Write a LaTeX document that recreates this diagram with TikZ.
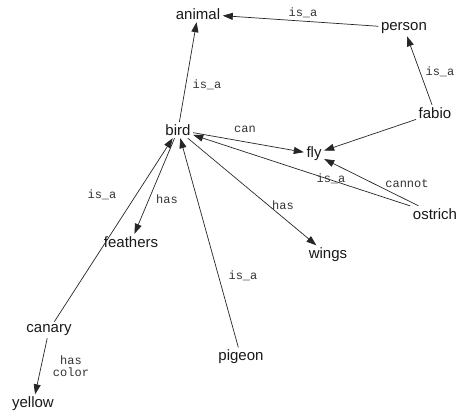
\documentclass[tikz,border=0pt]{standalone}
\usepackage{fontspec}
\setmainfont{Liberation Sans}
\setmonofont{Liberation Mono}
\usetikzlibrary{arrows.meta}
\begin{document}
\begin{tikzpicture}[x=1pt,y=-1pt,
  concept/.style={inner sep=2.5pt, text=black!90, font=\fontsize{15}{15}\selectfont},
  rel/.style={draw=black!85, line width=0.7pt, -{Triangle[length=10pt,width=7pt]}},
  lbl/.style={text=black!80, font=\ttfamily\fontsize{12}{11.5}\selectfont, inner sep=0pt, align=center}]
\useasboundingbox[fill=white] (0,0) rectangle (459,417);

% concepts
\node[concept] (animal)   at (198,14)  {animal};
\node[concept] (person)   at (404,28)  {person};
\node[concept] (fabio)    at (435,113) {fabio};
\node[concept] (bird)     at (178,130) {bird};
\node[concept] (fly)      at (314,154) {fly};
\node[concept] (ostrich)  at (435,214) {ostrich};
\node[concept] (feathers) at (131,242) {feathers};
\node[concept] (wings)    at (328,255) {wings};
\node[concept] (canary)   at (49,330)  {canary};
\node[concept] (pigeon)   at (241,357) {pigeon};
\node[concept] (yellow)   at (33,404)  {yellow};

% relations
\draw[rel] (person)  -- (animal);
\draw[rel] (bird)    -- (animal);
\draw[rel] (fabio)   -- (person);
\draw[rel] (fabio)   -- (fly);
\draw[rel] (bird)    -- (fly);
\draw[rel] (ostrich) -- (bird);
\draw[rel] (ostrich) -- (fly);
\draw[rel] (bird)    -- (feathers);
\draw[rel] (bird)    -- (wings);
\draw[rel] (canary)  -- (bird);
\draw[rel] (pigeon)  -- (bird);
\draw[rel] (canary)  -- (yellow);

% relation names
\node[lbl] (l1)  at (303,13)  {is\_a};
\node[lbl] (l2)  at (207,85)  {is\_a};
\node[lbl] (l3)  at (440,72)  {is\_a};
\node[lbl] (l4)  at (245,129) {can};
\node[lbl] (l5)  at (331,179) {is\_a};
\node[lbl] (l6)  at (407,184) {cannot};
\node[lbl] (l7)  at (167,199) {has};
\node[lbl] (l8)  at (283,205) {has};
\node[lbl] (l9)  at (102,195) {is\_a};
\node[lbl] (l10) at (243,276) {is\_a};
\node[lbl] (l11) at (71,366)  {has\\color};
\end{tikzpicture}
\end{document}
